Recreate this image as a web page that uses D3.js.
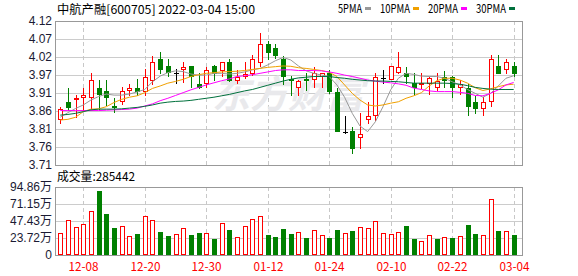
<!DOCTYPE html>
<html>
<head>
<meta charset="utf-8">
<script src="https://cdn.jsdelivr.net/npm/d3@7"></script>
<style>
  body { margin: 0; background: #fff; }
</style>
</head>
<body>
<div id="vis"></div>
<script>
// Data
const title = '中航产融[600705] 2022-03-04 15:00';
const lastVolume = 285442;

const dates = [
  '12-03','12-06','12-07','12-08','12-09','12-10','12-13','12-14','12-15','12-16','12-17',
  '12-20','12-21','12-22','12-23','12-24','12-27','12-28','12-29','12-30','12-31',
  '01-04','01-05','01-06','01-07','01-10','01-11','01-12','01-13','01-14','01-17',
  '01-18','01-19','01-20','01-21','01-24','01-25','01-26','01-27','01-28',
  '02-07','02-08','02-09','02-10','02-11','02-14','02-15','02-16','02-17','02-18',
  '02-21','02-22','02-23','02-24','02-25','02-28','03-01','03-02','03-03','03-04'
];

const opens = [3.840,3.888,3.897,3.903,3.903,3.928,3.921,3.879,3.893,3.923,
  3.928,3.921,3.952,4.011,3.992,3.973,3.982,3.992,3.941,3.943,
  3.992,3.981,4.002,3.952,3.962,3.971,4.004,4.055,4.042,4.011,
  3.955,3.931,3.956,3.954,3.963,3.971,3.919,3.805,3.808,3.789,
  3.840,3.851,3.957,3.954,3.975,3.973,3.943,3.940,3.943,3.931,
  3.960,3.960,3.931,3.928,3.888,3.871,3.892,3.992,3.982,3.992];
const highs = [3.876,3.928,3.909,3.928,3.973,3.952,3.952,3.900,3.931,3.941,
  3.954,3.982,4.021,4.031,4.011,3.982,4.002,3.992,3.971,3.990,
  3.994,4.002,4.012,3.980,4.002,4.023,4.087,4.064,4.055,4.019,
  3.962,3.952,3.971,3.990,3.973,3.981,3.928,3.850,3.819,3.857,
  3.890,3.973,3.981,3.992,4.033,3.990,3.971,3.971,3.961,3.971,
  3.979,3.962,3.952,3.941,3.907,3.903,4.023,4.023,4.011,4.004];
const lows = [3.829,3.867,3.848,3.867,3.871,3.867,3.881,3.862,3.883,3.909,
  3.909,3.909,3.941,3.971,3.962,3.944,3.947,3.931,3.928,3.931,
  3.952,3.963,3.950,3.943,3.957,3.966,3.992,4.011,4.014,3.941,
  3.909,3.909,3.924,3.931,3.931,3.914,3.808,3.800,3.745,3.757,
  3.829,3.838,3.943,3.954,3.971,3.943,3.909,3.928,3.911,3.924,
  3.931,3.903,3.911,3.851,3.859,3.851,3.879,3.973,3.973,3.962];
const closes = [3.869,3.876,3.900,3.908,3.952,3.911,3.903,3.877,3.921,3.928,
  3.922,3.960,4.002,3.982,3.974,3.973,3.990,3.962,3.931,3.980,
  3.971,4.002,3.952,3.960,3.968,4.011,4.055,4.033,4.023,3.962,
  3.952,3.950,3.954,3.971,3.971,3.922,3.808,3.805,3.757,3.798,
  3.850,3.960,3.957,3.992,3.990,3.963,3.931,3.943,3.959,3.950,
  3.952,3.931,3.941,3.879,3.871,3.888,4.011,3.973,4.002,3.973];

const volumes = [302700,484000,386000,428000,609000,893000,572000,377000,400000,261000,
  293000,540000,484000,321000,265000,289000,372000,279000,307000,307000,
  223000,446000,349000,246000,400000,502000,544000,279000,251000,363000,
  293000,321000,237000,349000,279000,237000,349000,307000,335000,391000,
  377000,474000,307000,293000,321000,405000,223000,195000,274000,223000,
  251000,237000,265000,419000,293000,279000,781000,335000,335000,lastVolume];
// 1 = red (up) volume bar, 0 = green
const volumeUp = [1,1,1,1,1,0,0,0,1,1, 0,1,1,0,0,1,1,0,0,1,
  0,1,0,1,1,1,1,0,0,0, 0,1,0,1,1,0,0,1,0,1,
  1,1,1,1,1,0,0,1,1,0, 1,0,1,0,0,1,1,0,1,0];

const ma5 = [3.846,3.859,3.871,3.881,3.895,3.905,3.912,3.909,3.909,3.912,
  3.918,3.925,3.947,3.963,3.973,3.978,3.976,3.969,3.966,3.966,
  3.971,3.971,3.969,3.971,3.975,3.981,3.985,3.995,4.007,4.016,
  4.009,3.992,3.978,3.971,3.966,3.962,3.938,3.903,3.857,3.821,
  3.805,3.833,3.876,3.924,3.957,3.971,3.968,3.963,3.962,3.962,
  3.957,3.947,3.938,3.925,3.914,3.903,3.914,3.935,3.957,3.964];
const ma10 = [3.838,3.840,3.846,3.862,3.869,3.870,3.876,3.888,3.897,3.903,
  3.907,3.916,3.928,3.935,3.943,3.948,3.954,3.962,3.967,3.971,
  3.973,3.975,3.976,3.977,3.979,3.982,3.985,3.988,3.990,3.992,
  3.991,3.987,3.985,3.982,3.979,3.974,3.962,3.938,3.914,3.895,
  3.881,3.878,3.881,3.886,3.890,3.900,3.907,3.916,3.935,3.950,
  3.957,3.957,3.952,3.943,3.930,3.922,3.927,3.933,3.938,3.940];
const ma20 = [3.865,3.865,3.865,3.865,3.865,3.865,3.866,3.867,3.868,3.869,
  3.872,3.878,3.884,3.893,3.900,3.908,3.916,3.924,3.931,3.938,
  3.944,3.950,3.955,3.962,3.964,3.967,3.971,3.975,3.979,3.981,
  3.981,3.979,3.979,3.979,3.978,3.975,3.971,3.966,3.962,3.957,
  3.952,3.949,3.946,3.944,3.941,3.937,3.929,3.925,3.921,3.919,
  3.919,3.919,3.917,3.914,3.908,3.907,3.914,3.924,3.938,3.945];
const ma30 = [3.852,3.854,3.857,3.862,3.867,3.869,3.869,3.869,3.870,3.872,
  3.874,3.877,3.881,3.886,3.889,3.891,3.892,3.894,3.897,3.900,
  3.903,3.907,3.911,3.916,3.921,3.925,3.931,3.937,3.943,3.949,
  3.954,3.958,3.960,3.962,3.962,3.962,3.959,3.957,3.954,3.952,
  3.950,3.949,3.949,3.948,3.947,3.945,3.943,3.943,3.943,3.943,
  3.943,3.942,3.940,3.936,3.931,3.928,3.926,3.925,3.925,3.925];

const xTickLabels = ['12-08','12-20','12-30','01-12','01-24','02-10','02-22','03-04'];
const priceTickLabels = ['3.71','3.76','3.81','3.86','3.91','3.97','4.02','4.07','4.12'];
const volumeTickLabels = ['0','23.72万','47.43万','71.15万','94.86万'];
const legendNames = ['5PMA','10PMA','20PMA','30PMA'];

// Layout
let width = 578,
    height = 276;
let plot = { left: 55, right: 522, top: 21, bottom: 165 };
let volPlot = { top: 187, bottom: 255 };

const RED = '#ff0000', GREEN = '#008000';
const maColors = ['#999999', '#f0a000', '#ff00ff', '#00703c'];
const pixelFont = "'Noto Sans CJK SC', 'DejaVu Sans Mono', monospace";

let svg = d3.select('#vis')
  .append('svg')
  .attr('width', width)
  .attr('height', height)
  .style('display', 'block')
  .style('background', '#fff');

// width of a string in a 12px bitmap-like font: CJK 12px, ascii 6px
function pixelWidth(s) {
  let w = 0;
  for (const ch of s) w += ch.charCodeAt(0) > 255 ? 12 : 6;
  return w;
}

// Scales
let xScale = d3.scaleBand()
  .domain(dates)
  .range([56.4, 517.5])
  .padding(0);
let bw = xScale.bandwidth();
let cx = d => Math.round(xScale(d) + bw / 2);

let yScale = d3.scaleLinear().domain([3.71, 4.12]).range([plot.bottom, plot.top]);
let priceTickScale = d3.scalePoint().domain(priceTickLabels).range([plot.bottom, plot.top]);

let yVol = d3.scaleLinear().domain([0, 948600]).range([volPlot.bottom, volPlot.top]);
let volTickScale = d3.scalePoint().domain(volumeTickLabels).range([volPlot.bottom, volPlot.top]);

// Horizontal grid lines
function hGrid(scale, labels) {
  svg.append('g')
    .selectAll('line')
    .data(labels)
    .enter()
    .append('line')
    .attr('x1', plot.left)
    .attr('x2', plot.right)
    .attr('y1', d => Math.round(scale(d)) + 0.5)
    .attr('y2', d => Math.round(scale(d)) + 0.5)
    .attr('stroke', '#cccccc');
}
hGrid(priceTickScale, priceTickLabels);
hGrid(volTickScale, volumeTickLabels);

// Vertical dashed grid lines at labelled dates
[[plot.top, plot.bottom], [volPlot.top, volPlot.bottom]].forEach(([t, b]) => {
  svg.append('g')
    .selectAll('line')
    .data(xTickLabels)
    .enter()
    .append('line')
    .attr('x1', d => cx(d) + 0.5)
    .attr('x2', d => cx(d) + 0.5)
    .attr('y1', t)
    .attr('y2', b)
    .attr('stroke', '#c8c8c8')
    .attr('stroke-dasharray', '4,3');
});

// Watermark
svg.append('text')
  .attr('x', 212)
  .attr('y', 108)
  .text('东方财富')
  .style('font-family', "'Noto Sans CJK SC'")
  .style('font-size', '38px')
  .style('font-weight', 'bold')
  .style('font-style', 'italic')
  .style('fill', '#e9e9ec');

// Candles
let candles = dates.map((d, i) => ({
  date: d, o: opens[i], h: highs[i], l: lows[i], c: closes[i]
}));
let candleColor = d => d.c > d.o ? RED : (d.c < d.o ? GREEN : '#000');

let cg = svg.append('g');
cg.selectAll('line.wick')
  .data(candles)
  .enter()
  .append('line')
  .attr('class', 'wick')
  .attr('x1', d => cx(d.date) + 0.5)
  .attr('x2', d => cx(d.date) + 0.5)
  .attr('y1', d => Math.round(yScale(d.h)))
  .attr('y2', d => Math.round(yScale(d.l)) + 1)
  .attr('stroke', candleColor);

// up candles: hollow red
cg.selectAll('rect.up')
  .data(candles.filter(d => d.c > d.o))
  .enter()
  .append('rect')
  .attr('x', d => cx(d.date) - 1.5)
  .attr('y', d => Math.round(yScale(d.c)) + 0.5)
  .attr('width', 4)
  .attr('height', d => Math.max(Math.round(yScale(d.o)) - Math.round(yScale(d.c)), 1))
  .attr('fill', '#fff')
  .attr('stroke', RED);

// down candles: filled green
cg.selectAll('rect.down')
  .data(candles.filter(d => d.c < d.o))
  .enter()
  .append('rect')
  .attr('x', d => cx(d.date) - 2)
  .attr('y', d => Math.round(yScale(d.o)))
  .attr('width', 5)
  .attr('height', d => Math.max(Math.round(yScale(d.c)) - Math.round(yScale(d.o)), 1) + 1)
  .attr('fill', GREEN);

// flat candles: black cross
cg.selectAll('line.flat')
  .data(candles.filter(d => d.c === d.o))
  .enter()
  .append('line')
  .attr('x1', d => cx(d.date) - 2)
  .attr('x2', d => cx(d.date) + 3)
  .attr('y1', d => Math.round(yScale(d.c)) + 0.5)
  .attr('y2', d => Math.round(yScale(d.c)) + 0.5)
  .attr('stroke', '#000');

// Moving averages
let maLine = d3.line()
  .x((d, i) => xScale(dates[i]) + bw / 2)
  .y(d => yScale(d));

[ma5, ma10, ma20, ma30].forEach((series, k) => {
  svg.append('path')
    .datum(series)
    .attr('d', maLine)
    .attr('fill', 'none')
    .attr('stroke', maColors[k])
    .attr('stroke-width', 1);
});

// Volume bars
let vg = svg.append('g');
vg.selectAll('rect')
  .data(volumes)
  .enter()
  .append('rect')
  .attr('x', (d, i) => volumeUp[i] ? cx(dates[i]) - 1.5 : cx(dates[i]) - 2)
  .attr('y', (d, i) => Math.round(yVol(d)) + (volumeUp[i] ? 0.5 : 0))
  .attr('width', (d, i) => volumeUp[i] ? 4 : 5)
  .attr('height', (d, i) => volPlot.bottom - Math.round(yVol(d)) - (volumeUp[i] ? 1 : 0))
  .attr('fill', (d, i) => volumeUp[i] ? '#fff' : GREEN)
  .attr('stroke', (d, i) => volumeUp[i] ? RED : 'none');

// Frames
[[plot.top, plot.bottom], [volPlot.top, volPlot.bottom]].forEach(([t, b]) => {
  svg.append('rect')
    .attr('x', plot.left + 0.5)
    .attr('y', t + 0.5)
    .attr('width', plot.right - plot.left)
    .attr('height', b - t)
    .attr('fill', 'none')
    .attr('stroke', '#999999');
});

// Y axes labels
function leftLabels(scale) {
  let g = svg.append('g')
    .attr('transform', `translate(${plot.left}, 0)`)
    .call(d3.axisLeft(scale).tickSize(0).tickPadding(3));
  g.select('.domain').remove();
  g.selectAll('text')
    .style('font-family', "'Liberation Sans', 'Noto Sans CJK SC', sans-serif")
    .style('font-size', '12px')
    .style('fill', '#1a1a33');
}
leftLabels(priceTickScale);
leftLabels(volTickScale);

// X axis labels
svg.append('g')
  .selectAll('text')
  .data(xTickLabels)
  .enter()
  .append('text')
  .attr('x', d => cx(d) + 0.5)
  .attr('y', 271)
  .attr('text-anchor', 'middle')
  .attr('textLength', d => pixelWidth(d))
  .attr('lengthAdjust', 'spacingAndGlyphs')
  .text(d => d)
  .style('font-family', pixelFont)
  .style('font-size', '12px')
  .style('fill', RED);

// Title
svg.append('text')
  .attr('x', 57)
  .attr('y', 14)
  .attr('textLength', pixelWidth(title))
  .attr('lengthAdjust', 'spacingAndGlyphs')
  .text(title)
  .style('font-family', pixelFont)
  .style('font-size', '12px')
  .style('fill', '#000');

// Volume header
let volTitle = '成交量:' + lastVolume;
svg.append('text')
  .attr('x', 57)
  .attr('y', 181)
  .attr('textLength', pixelWidth(volTitle))
  .attr('lengthAdjust', 'spacingAndGlyphs')
  .text(volTitle)
  .style('font-family', pixelFont)
  .style('font-size', '12px')
  .style('fill', '#000');

// Legend
let lx = 338;
legendNames.forEach((name, k) => {
  let w = pixelWidth(name);
  svg.append('text')
    .attr('x', lx)
    .attr('y', 13)
    .attr('textLength', w)
    .attr('lengthAdjust', 'spacingAndGlyphs')
    .text(name)
    .style('font-family', pixelFont)
    .style('font-size', '12px')
    .style('fill', '#000');
  svg.append('rect')
    .attr('x', lx + w + 3)
    .attr('y', 7)
    .attr('width', 6)
    .attr('height', 3)
    .attr('fill', maColors[k]);
  lx += w + 3 + 6 + 9;
});
</script>
</body>
</html>
